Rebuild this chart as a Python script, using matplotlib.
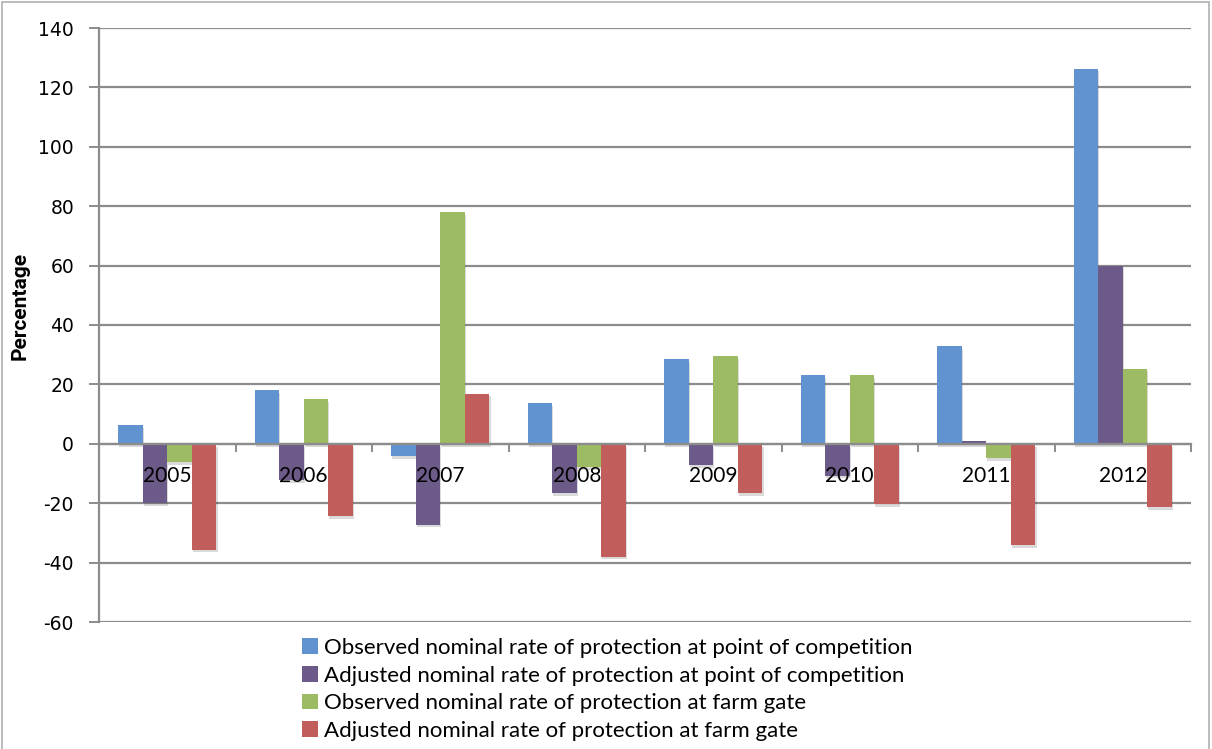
import matplotlib
matplotlib.use("Agg")
import matplotlib.pyplot as plt
import matplotlib.patheffects as pe
from matplotlib.patches import Rectangle, Patch
import matplotlib.transforms as mtransforms
import numpy as np

plt.rcParams["axes.unicode_minus"] = False

years = ["2005", "2006", "2007", "2008", "2009", "2010", "2011", "2012"]
series_names = [
    "Observed nominal rate of protection at point of competition",
    "Adjusted nominal rate of protection at point of competition",
    "Observed nominal rate of protection at farm gate",
    "Adjusted nominal rate of protection at farm gate",
]
observed_poc = [6.4, 18.0, -4.2, 13.6, 28.6, 23.0, 32.9, 126.3]
adjusted_poc = [-20.0, -12.1, -27.2, -16.6, -7.1, -10.7, 1.1, 60.0]
observed_farm = [-6.2, 15.0, 78.0, -7.9, 29.6, 23.0, -4.8, 25.3]
adjusted_farm = [-35.6, -24.4, 16.9, -38.0, -16.7, -20.2, -34.0, -21.3]
colors = ["#6293d1", "#6c5a89", "#9dbb62", "#c15d5a"]

W, H = 1212, 749
fig = plt.figure(figsize=(W / 100, H / 100), dpi=100)
ax = fig.add_axes([99 / W, 1 - 622 / H, (1191 - 99) / W, (622 - 28) / H])

# outer chart border
fig.patches.append(Rectangle((2 / W, -0.01), (1209 - 2) / W, 1 - 2 / H + 0.01,
                             transform=fig.transFigure, fill=False,
                             edgecolor="#b0b0b0", linewidth=1.2))

grid_c = "#8c8c8c"
x = np.arange(len(years))
width = 0.18
shadow = [pe.SimplePatchShadow(offset=(0.8, -2), alpha=0.18, shadow_rgbFace="#333333"),
          pe.Normal()]
for i, vals in enumerate([observed_poc, adjusted_poc, observed_farm, adjusted_farm]):
    bars = ax.bar(x + 0.14 + width * (i + 0.5), vals, width, color=colors[i],
                  zorder=3, label=series_names[i])
    for b in bars:
        b.set_path_effects(shadow)

ax.set_xlim(0, len(years))
ax.set_ylim(-60, 140)
ax.set_yticks(np.arange(-60, 141, 20))
ax.yaxis.grid(True, color=grid_c, linewidth=1.6, zorder=1)
ax.set_axisbelow(True)

for s in ["top", "right"]:
    ax.spines[s].set_visible(False)
ax.spines["left"].set_color(grid_c)
ax.spines["left"].set_linewidth(1.6)
ax.spines["bottom"].set_position(("data", 0))
ax.spines["bottom"].set_color(grid_c)
ax.spines["bottom"].set_linewidth(1.6)
ax.spines["bottom"].set_zorder(4)

ax.set_xticks(np.arange(len(years) + 1))
ax.set_xticklabels([])
ax.tick_params(axis="x", which="major", direction="out", length=6, width=1.4, color=grid_c)
ax.tick_params(axis="y", direction="out", length=7, width=1.4, color=grid_c,
               pad=11, labelsize=13.5)

# year labels sit just under the zero line, on top of the bars
offset = mtransforms.offset_copy(ax.transData, fig=fig, x=0, y=-32, units="dots")
for xi, yr in zip(x, years):
    ax.text(xi + 0.5, 0, yr, transform=offset, ha="center", va="center",
            fontsize=15, family="Lato", zorder=6)

ax.set_ylabel("Percentage", fontsize=15, fontweight="bold", family="Roboto")
ax.yaxis.set_label_coords((30 - 99) / (1191 - 99), (622 - 306) / 594)

handles = [Patch(facecolor=c) for c in colors]
fig.legend(handles, series_names, loc="upper left",
           bbox_to_anchor=(302 / W, 1 - 638 / H), frameon=False,
           prop={"family": "Lato", "size": 16}, handlelength=0.7, handleheight=0.7,
           handletextpad=0.3, labelspacing=0.34, borderpad=0, borderaxespad=0)

fig.savefig("out.png", dpi=100)
